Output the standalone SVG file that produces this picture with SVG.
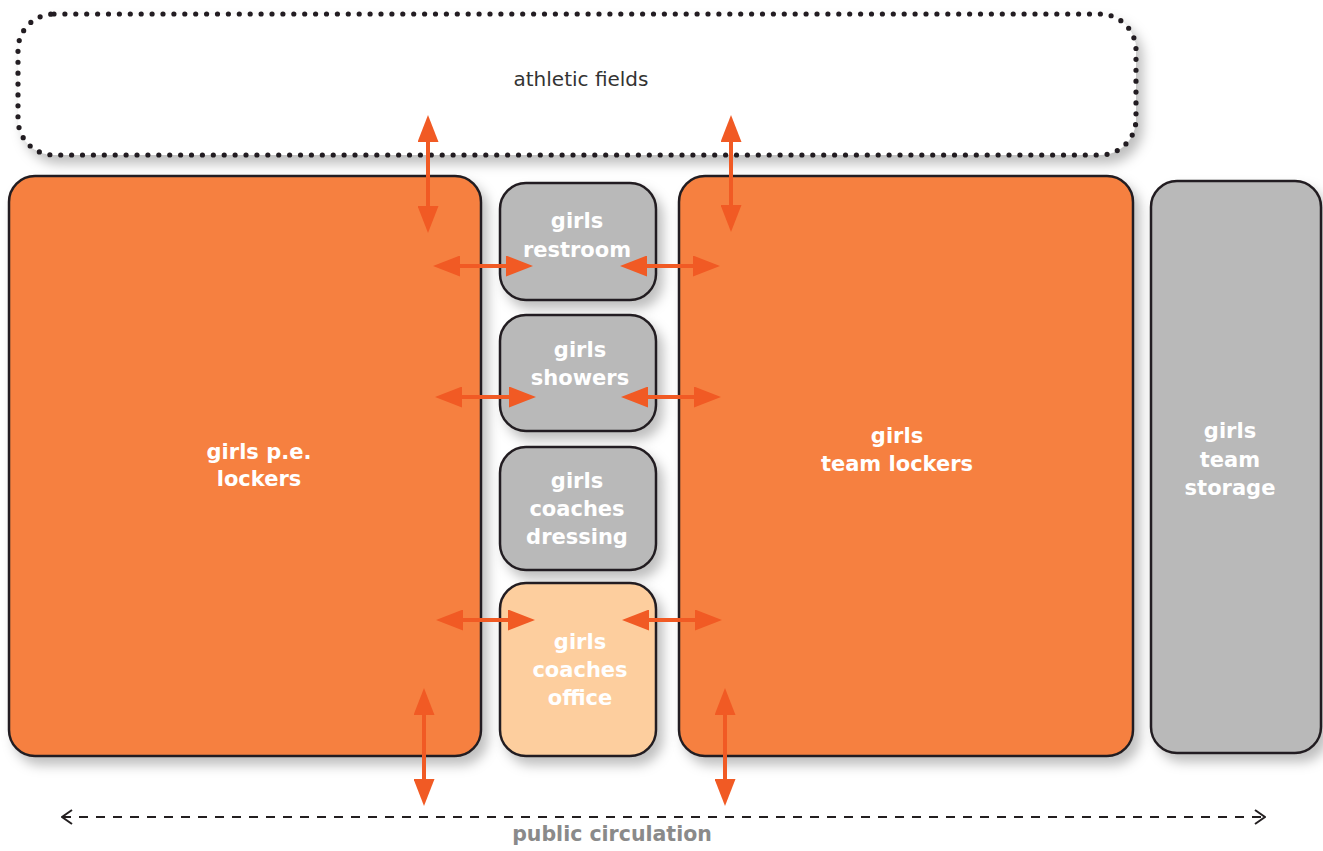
<svg xmlns="http://www.w3.org/2000/svg" width="1323" height="851" viewBox="0 0 1323 851">
<style>
.room{stroke:#231F20;stroke-width:2.5}
.orange{fill:#F6803F}
.gray{fill:#B9B9B9}
.peach{fill:#FDCE9E}
.lbl{font-family:"DejaVu Sans","Liberation Sans",sans-serif;font-weight:bold;font-size:21px;fill:#fff;text-anchor:middle}
.arr{stroke:#F15A24;stroke-width:4;fill:none;marker-start:url(#ah);marker-end:url(#ah)}
</style>
<defs>
<filter id="sh" x="-10%" y="-10%" width="130%" height="130%">
<feDropShadow dx="6" dy="8" stdDeviation="6" flood-color="#000" flood-opacity="0.25"/>
</filter>
<marker id="ah" viewBox="0 0 10 10" refX="0" refY="5" markerWidth="27" markerHeight="21" markerUnits="userSpaceOnUse" preserveAspectRatio="none" orient="auto-start-reverse">
<path d="M0,0 L10,5 L0,10 z" fill="#F15A24"/>
</marker>
<marker id="chev" viewBox="0 0 12 16" refX="11" refY="8" markerWidth="12" markerHeight="16" markerUnits="userSpaceOnUse" orient="auto-start-reverse">
<path d="M1,1 L11,8 L1,15" fill="none" stroke="#231F20" stroke-width="2"/>
</marker>
</defs>
<rect width="1323" height="851" fill="#fff"/>

<g id="athletic-fields">
<rect x="18" y="14" width="1118" height="141" rx="36" fill="#fff" stroke="#231F20" stroke-width="5.2" stroke-dasharray="0 10.9" stroke-linecap="round" filter="url(#sh)"/>
<text x="581" y="86" font-family="'DejaVu Sans','Liberation Sans',sans-serif" font-size="20" fill="#333" text-anchor="middle">athletic fields</text>
</g>

<g id="pe-lockers">
<rect class="room orange" x="9" y="176" width="472" height="580" rx="26" filter="url(#sh)"/>
<text class="lbl" x="259" y="459">girls p.e.</text>
<text class="lbl" x="259" y="486">lockers</text>
</g>

<g id="restroom">
<rect class="room gray" x="500" y="183" width="156" height="117" rx="26" filter="url(#sh)"/>
<text class="lbl" x="577" y="228">girls</text>
<text class="lbl" x="577" y="257">restroom</text>
</g>

<g id="showers">
<rect class="room gray" x="500" y="315" width="156" height="116" rx="26" filter="url(#sh)"/>
<text class="lbl" x="580" y="357">girls</text>
<text class="lbl" x="580" y="385">showers</text>
</g>

<g id="coaches-dressing">
<rect class="room gray" x="500" y="447" width="156" height="123" rx="26" filter="url(#sh)"/>
<text class="lbl" x="577" y="488">girls</text>
<text class="lbl" x="577" y="516">coaches</text>
<text class="lbl" x="577" y="544">dressing</text>
</g>

<g id="coaches-office">
<rect class="room peach" x="500" y="583" width="156" height="173" rx="26" filter="url(#sh)"/>
<text class="lbl" x="580" y="649">girls</text>
<text class="lbl" x="580" y="677">coaches</text>
<text class="lbl" x="580" y="705">office</text>
</g>

<g id="team-lockers">
<rect class="room orange" x="679" y="176" width="454" height="580" rx="26" filter="url(#sh)"/>
<text class="lbl" x="897" y="443">girls</text>
<text class="lbl" x="897" y="471">team lockers</text>
</g>

<g id="team-storage">
<rect class="room gray" x="1151" y="181" width="170" height="572" rx="26" filter="url(#sh)"/>
<text class="lbl" x="1230" y="438">girls</text>
<text class="lbl" x="1230" y="467">team</text>
<text class="lbl" x="1230" y="495">storage</text>
</g>

<g id="public-circulation">
<text x="612" y="841" font-family="'DejaVu Sans','Liberation Sans',sans-serif" font-weight="bold" font-size="20.5" fill="#8A8A8A" text-anchor="middle">public circulation</text>
</g>

<g id="connectors">
<line x1="62" y1="817" x2="1265" y2="817" stroke="#231F20" stroke-width="2" stroke-dasharray="9 8" marker-start="url(#chev)" marker-end="url(#chev)"/>
<line class="arr" x1="428" y1="142" x2="428" y2="206"/>
<line class="arr" x1="731" y1="142" x2="731" y2="205"/>
<line class="arr" x1="424" y1="715" x2="424" y2="779"/>
<line class="arr" x1="725" y1="715" x2="725" y2="779"/>
<line class="arr" x1="460" y1="266" x2="506" y2="266"/>
<line class="arr" x1="647" y1="266" x2="693" y2="266"/>
<line class="arr" x1="462" y1="397" x2="509" y2="397"/>
<line class="arr" x1="648" y1="397" x2="694" y2="397"/>
<line class="arr" x1="463" y1="620" x2="508" y2="620"/>
<line class="arr" x1="649" y1="620" x2="695" y2="620"/>
</g>
</svg>
